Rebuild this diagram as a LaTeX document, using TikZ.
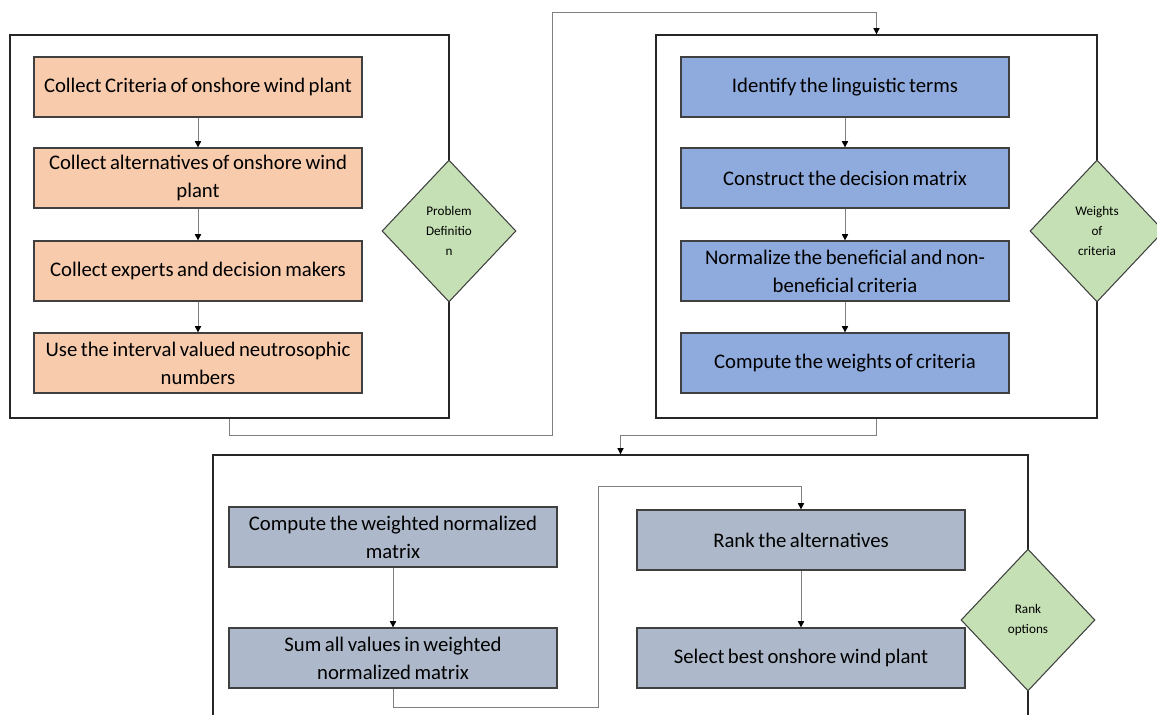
\documentclass[tikz,border=0pt]{standalone}
\usepackage{fontspec}
\setmainfont[WordSpace=0.75]{Carlito}
\usetikzlibrary{shapes.geometric,arrows.meta}

\definecolor{peach}{HTML}{F8CBAD}
\definecolor{steel}{HTML}{8FAADC}
\definecolor{slate}{HTML}{ADB9CA}
\definecolor{sage}{HTML}{C5E0B4}

\begin{document}
\begin{tikzpicture}[
    x=0.02cm, y=-0.02cm,
    box/.style ={
        rectangle,
        draw=black!75,
        line width=0.7pt,
        minimum width=6.56cm,
        minimum height=1.2cm,
        inner sep=1pt,
        align=center,
        font=\fontsize{11.8}{16}\selectfont
    },
    frame/.style ={
        rectangle,
        draw=black!85,
        line width=0.8pt,
        inner sep=0pt
    },
    stage/.style ={
        diamond,
        draw=black!75,
        fill=sage,
        line width=0.6pt,
        minimum width=2.68cm,
        minimum height=2.84cm,
        inner sep=0pt,
        align=center,
        font=\fontsize{7.5}{11.3}\selectfont
    },
    conn/.style ={
        draw=black!50,
        line width=0.5pt,
        -{Triangle[length=3.5pt,width=3.5pt,black]}
    }
    ]
    \clip (0,0) rectangle (1157,715);

    % frames
    \node[frame, minimum width=8.78cm, minimum height=7.66cm] (frameA) at (229.5,226.5) {};
    \node[frame, minimum width=8.82cm, minimum height=7.66cm] (frameB) at (876.5,226.5) {};
    \node[frame, minimum width=16.3cm, minimum height=5.7cm] (frameC) at (620.5,597.5) {};

    % problem definition
    \foreach \x/ \pos/ \txt in {{critA/(198,87)/Collect Criteria of onshore wind plant},
                                {altA/(198,178)/Collect alternatives of onshore wind\\plant},
                                {expA/(198,271)/Collect experts and decision makers},
                                {ivnA/(198,363)/Use the interval valued neutrosophic\\numbers}}
        \node[box, fill=peach] (\x) at \pos {\txt};

    % weights of criteria
    \foreach \x/ \pos/ \txt in {{lingB/(845,87)/Identify the linguistic terms},
                                {matB/(845,178)/Construct the decision matrix},
                                {normB/(845,271)/Normalize the beneficial and non-\\beneficial criteria},
                                {wghtB/(845,363)/Compute the weights of criteria}}
        \node[box, fill=steel] (\x) at \pos {\txt};

    % rank options
    \foreach \x/ \pos/ \txt in {{wnmC/(393,537)/Compute the weighted normalized\\matrix},
                                {sumC/(393,658)/Sum all values in weighted\\normalized matrix},
                                {rankC/(801,540)/Rank the alternatives},
                                {bestC/(801,658)/Select best onshore wind plant}}
        \node[box, fill=slate] (\x) at \pos {\txt};

    \foreach \src/ \dst in {critA/altA, altA/expA, expA/ivnA, lingB/matB, matB/normB,
                            normB/wghtB, wnmC/sumC, rankC/bestC}
        \draw[conn] (\src.south) -- (\dst.north);

    \draw[conn] (frameA.south) -- ++(0,17) -- ++(323,0) -- ++(0,-423) -| (frameB.north);
    \draw[conn] (frameB.south) -- ++(0,17) -| (frameC.north);
    \draw[conn] (sumC.south) -- ++(0,19) -- ++(205,0) -- ++(0,-221) -| (rankC.north);

    \node[stage] (probD) at (449,231) {Problem\\Definitio\\n};
    \node[stage] (wghtD) at (1097,231) {Weights\\of\\criteria};
    \node[stage] (rankD) at (1028,620) {Rank\\options};

\end{tikzpicture}
\end{document}
